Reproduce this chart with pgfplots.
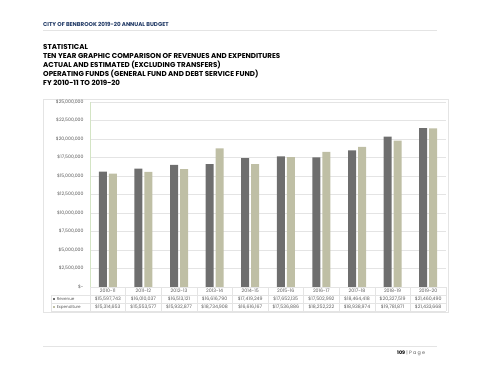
\documentclass[border=0pt]{standalone}
\usepackage{fontspec}
\setmainfont{Poppins}
\usepackage{pgfplots}
\pgfplotsset{compat=1.18}
\definecolor{rev}{HTML}{6E6E6E}
\definecolor{expc}{HTML}{BFBFA5}
\definecolor{gridc}{HTML}{E4E4E4}
\definecolor{navy}{HTML}{1F3864}
\definecolor{axgreen}{HTML}{D3E4C4}
\definecolor{txtgray}{HTML}{595959}
\begin{document}
\begin{tikzpicture}[x=1pt,y=1pt]
\path (0,0) rectangle (480,371);
% header
\node[anchor=base west,inner sep=0,font=\fontsize{5.6}{6}\selectfont\bfseries,text=navy] at (43,371-26.5) {CITY OF BENBROOK 2019-20 ANNUAL BUDGET};
\draw[gridc,line width=0.6pt] (43,371-30.5) -- (437,371-30.5);
% titles
\foreach \t/\yy in {STATISTICAL/49.8,TEN YEAR GRAPHIC COMPARISON OF REVENUES AND EXPENDITURES/58.8,ACTUAL AND ESTIMATED (EXCLUDING TRANSFERS)/67.8,OPERATING FUNDS (GENERAL FUND AND DEBT SERVICE FUND)/76.8,FY 2010-11 TO 2019-20/85.8}
  \node[anchor=base west,inner sep=0,font=\fontsize{7.1}{7}\selectfont\bfseries] at (43,371-\yy) {\t};
% chart frame
\draw[gridc,line width=0.5pt] (43,371-312) rectangle (448,371-99);
\begin{axis}[
  at={(90pt,84pt)}, anchor=south west,
  scale only axis, width=356pt, height=185pt,
  xmin=-0.5, xmax=9.5, ymin=0, ymax=25000000,
  ybar=2pt, bar width=8pt,
  axis line style={draw=none},
  ymajorgrids, grid style={gridc,line width=0.5pt},
  major tick length=0pt,
  ytick={0,2500000,5000000,7500000,10000000,12500000,15000000,17500000,20000000,22500000,25000000},
  yticklabels={{\$-\hspace{5pt}},{\$2,500,000},{\$5,000,000},{\$7,500,000},{\$10,000,000},{\$12,500,000},{\$15,000,000},{\$17,500,000},{\$20,000,000},{\$22,500,000},{\$25,000,000}},
  yticklabel style={font=\fontsize{4.6}{5}\selectfont,text=txtgray,xshift=-3pt},
  scaled y ticks=false,
  xtick={0,...,9},
  xticklabels={
    {2010-11\\\$15,597,743\\\$15,314,653},
    {2011-12\\\$16,010,037\\\$15,553,577},
    {2012-13\\\$16,513,121\\\$15,932,877},
    {2013-14\\\$16,616,790\\\$18,734,908},
    {2014-15\\\$17,419,249\\\$16,616,167},
    {2015-16\\\$17,652,135\\\$17,536,886},
    {2016-17\\\$17,502,992\\\$18,252,222},
    {2017-18\\\$18,464,418\\\$18,938,974},
    {2018-19\\\$20,327,519\\\$19,781,871},
    {2019-20\\\$21,460,490\\\$21,433,668}},
  xticklabel style={font=\fontsize{4.7}{8}\selectfont,text=txtgray,align=center,anchor=north,inner sep=0pt,yshift=-2.2pt},
  clip=false,
]
\addplot[fill=rev,draw=none] coordinates {(0,15597743) (1,16010037) (2,16513121) (3,16616790) (4,17419249) (5,17652135) (6,17502992) (7,18464418) (8,20327519) (9,21460490)};
\addplot[fill=expc,draw=none] coordinates {(0,15314653) (1,15553577) (2,15932877) (3,18734908) (4,16616167) (5,17536886) (6,18252222) (7,18938974) (8,19781871) (9,21433668)};
\end{axis}
% y axis line
\draw[axgreen,line width=0.6pt] (90,84) -- (90,269);
% data table lines
\draw[gridc,line width=0.5pt] (90,84) -- (446,84);
\foreach \yy in {76,68,60} \draw[gridc,line width=0.5pt] (51,\yy) -- (446,\yy);
\draw[gridc,line width=0.5pt] (51,76) -- (51,60);
\foreach \k in {0,...,10} \draw[gridc,line width=0.5pt] (90+35.6*\k,84) -- (90+35.6*\k,60);
% legend keys
\fill[rev] (53,70.8) rectangle (55.4,73.2);
\node[anchor=west,inner sep=0,font=\fontsize{4.1}{5}\selectfont,text=txtgray] at (56.6,72) {Revenue};
\fill[expc] (53,62.8) rectangle (55.4,65.2);
\node[anchor=west,inner sep=0,font=\fontsize{4.1}{5}\selectfont,text=txtgray] at (56.6,64) {Expenditure};
% footer
\draw[gridc,line width=0.6pt] (43,25) -- (437,25);
\node[anchor=base west,inner sep=0,font=\fontsize{4.8}{5}\selectfont] at (397,16) {\textbf{109} \textcolor{txtgray}{| P a g e}};
\end{tikzpicture}
\end{document}
